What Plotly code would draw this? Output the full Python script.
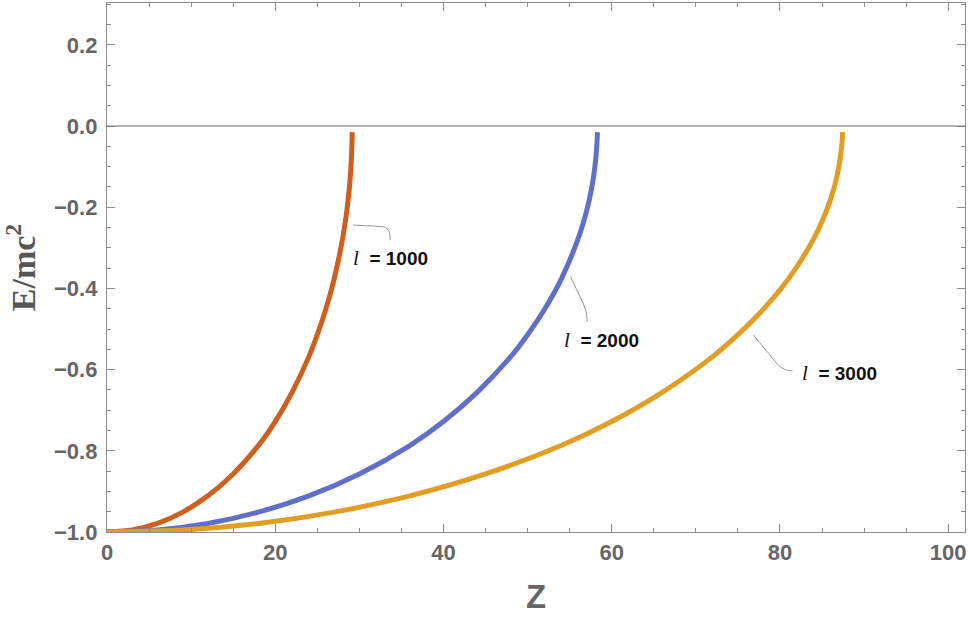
import plotly.graph_objects as go

# ---- data ----
z_l1000 = [0, 3, 6, 9, 12, 15, 18, 20, 22, 24, 25, 26, 27, 28, 28.5, 28.8, 29.0, 29.12, 29.15]
e_l1000 = [-1.0, -0.995, -0.979, -0.951, -0.911, -0.857, -0.787, -0.728, -0.656, -0.568,
           -0.514, -0.452, -0.377, -0.278, -0.21, -0.155, -0.101, -0.045, -0.015]

z_l2000 = [0, 6, 12, 18, 24, 30, 36, 40, 44, 48, 50, 52, 54, 56, 57, 57.6, 58.0, 58.24, 58.3]
e_l2000 = [-1.0, -0.995, -0.979, -0.951, -0.911, -0.857, -0.787, -0.728, -0.656, -0.568,
           -0.514, -0.452, -0.377, -0.278, -0.21, -0.155, -0.101, -0.045, -0.015]

z_l3000 = [0, 9, 18, 27, 36, 45, 54, 60, 66, 72, 75, 78, 81, 84, 85.5, 86.4, 87.0, 87.36, 87.45]
e_l3000 = [-1.0, -0.995, -0.979, -0.951, -0.911, -0.857, -0.787, -0.728, -0.656, -0.568,
           -0.514, -0.452, -0.377, -0.278, -0.21, -0.155, -0.101, -0.045, -0.015]

labels = ["1000", "2000", "3000"]
colors = ["#D05F1F", "#6070CA", "#E29D24"]
label_pos = [(29.0, -0.325), (54.1, -0.527), (82.4, -0.608)]
leader_paths = [
    "M 29.25,-0.244 L 32.7,-0.2475 Q 33.65,-0.251 33.65,-0.271 L 33.65,-0.281",
    "M 55.1,-0.371 L 56.6,-0.436 Q 57.1,-0.458 57.1,-0.482",
    "M 76.85,-0.515 L 79.8,-0.589 Q 80.5,-0.603 81.5,-0.603",
]

fig = go.Figure()
for zs, es, c in zip([z_l1000, z_l2000, z_l3000], [e_l1000, e_l2000, e_l3000], colors):
    fig.add_trace(go.Scatter(x=zs, y=es, mode="lines",
                             line=dict(color=c, width=5, shape="spline", smoothing=0.8),
                             showlegend=False, hoverinfo="skip"))

# zero line
fig.add_hline(y=0, line=dict(color="#9a9a9a", width=1.5), layer="below")

for (lx, ly), lab, p in zip(label_pos, labels, leader_paths):
    fig.add_annotation(x=lx, y=ly, xref="x", yref="y", xanchor="left", yanchor="middle",
                       showarrow=False,
                       text="<span style='font-family:Liberation Serif;font-size:21px'><i>l</i></span>  <b>= " + lab + "</b>",
                       font=dict(family="Liberation Sans", size=19, color="#111111"))
    fig.add_shape(type="path", path=p, xref="x", yref="y",
                  line=dict(color="#9a9a9a", width=1))

axis_common = dict(
    showline=True, linecolor="#8c8c8c", linewidth=1.2, mirror="ticks",
    ticks="inside", ticklen=8, tickwidth=1, tickcolor="#8c8c8c",
    showgrid=False, zeroline=False, automargin=False,
    tickfont=dict(family="Liberation Sans", size=22, color="#666666", weight="bold"),
)

fig.update_xaxes(range=[0, 102], tick0=0, dtick=20,
                 minor=dict(dtick=5, ticks="inside", ticklen=4, tickcolor="#8c8c8c", showgrid=False),
                 title=dict(text="Z", font=dict(family="Liberation Sans", size=33, color="#666666",
                                                weight="bold"),
                            standoff=21),
                 **axis_common)
fig.update_yaxes(range=[-1.0, 0.303], tick0=0, dtick=0.2, tickformat=".1f",
                 minor=dict(dtick=0.05, ticks="inside", ticklen=4, tickcolor="#8c8c8c", showgrid=False),
                 title=dict(text="<b>E/mc<sup>2</sup></b>",
                            font=dict(family="Liberation Serif", size=34, color="#555555"),
                            standoff=12),
                 ticklabelstandoff=4,
                 **axis_common)

fig.update_layout(width=969, height=618,
                  margin=dict(l=107, r=4, t=3, b=86),
                  plot_bgcolor="white", paper_bgcolor="white")

fig.write_html("out.html",
               config={"displayModeBar": False, "staticPlot": True},
               post_script="document.body.style.margin='0';document.body.style.overflow='hidden';")
